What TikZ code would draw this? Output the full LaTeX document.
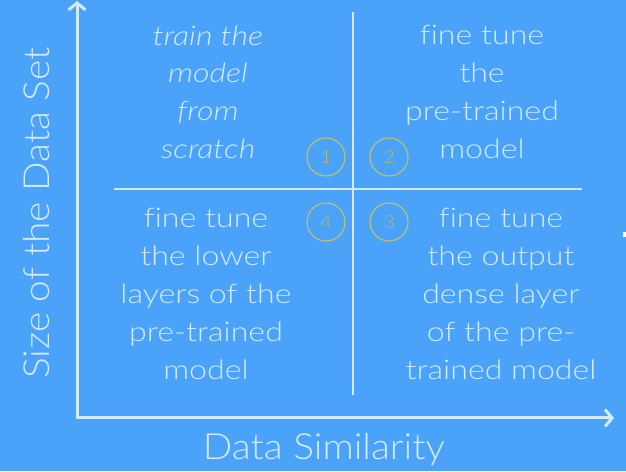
\documentclass[tikz,border=0pt]{standalone}
\usepackage{fontspec}
\setmainfont{Lato}[UprightFont={* Light},ItalicFont={* Light Italic},BoldFont={* Regular},Ligatures=NoCommon]
\newfontfamily\quadfont{Lato}[UprightFont={* Light},ItalicFont={* Light Italic},BoldFont={* Regular},FakeStretch=1.19,Ligatures=NoCommon]
\newfontfamily\labfont{Lato}[UprightFont={* Light},ItalicFont={* Light Italic},BoldFont={* Regular},FakeStretch=1.08,Ligatures=NoCommon]
\newfontfamily\numfont{Lato}[UprightFont={* Light},ItalicFont={* Light Italic},BoldFont={* Regular},FakeStretch=1.1]
\usetikzlibrary{arrows.meta}
\definecolor{bg}{HTML}{4AA3F8}
\definecolor{fg}{HTML}{D4EAFF}
\definecolor{ring}{HTML}{C6C06A}
\definecolor{ringtxt}{HTML}{BBB866}
\tikzset{
  axis/.style={draw=fg,line width=3pt,line join=miter,
    {Straight Barb[length=7pt,width=17pt,line width=3pt]}-{Straight Barb[length=7pt,width=17pt,line width=3pt]}},
  divider/.style={draw=fg,line width=1.2pt},
  quad/.style={text=fg,align=center,inner sep=0pt,font=\quadfont\fontsize{27}{37.8}\selectfont},
  axlabel/.style={text=fg,inner sep=0pt,font=\labfont\fontsize{36}{40}\selectfont},
  ringnode/.style={circle,draw=ring,line width=1.1pt,minimum size=38pt,inner sep=0pt,
    text=ringtxt,font=\numfont\fontsize{18}{20}\selectfont}
}
\begin{document}
\begin{tikzpicture}[x=1pt,y=1pt]
\fill[bg] (0,0) rectangle (626,471);
\useasboundingbox (0,0) rectangle (626,471);
% axes
\coordinate (ytip) at (77,470);
\coordinate (corner) at (77,53);
\coordinate (xtip) at (614,53);
\draw[axis] (ytip) -- (corner) -- (xtip);
% dividers
\coordinate (vtop) at (353,459);
\coordinate (vbot) at (353,76);
\coordinate (hl) at (114,282);
\coordinate (hr) at (582,282);
\draw[divider] (vtop) -- (vbot);
\draw[divider] (hl) -- (hr);
% quadrant texts
\node[quad,font=\quadfont\fontsize{27}{37.8}\selectfont\itshape] (tl) at (208,379) {train the\\model\\from\\scratch};
\node[quad] (tr) at (482,379) {fine tune\\the\\pre-trained\\model};
\node[quad] (bl) at (206,177) {fine tune\\the lower\\layers of the\\pre-trained\\model};
\node[quad] (br) at (501,177) {fine tune\\the output\\dense layer\\of the pre-\\trained model};
% circles
\node[ringnode] (c1) at (326,314) {1};
\node[ringnode] (c2) at (389,314) {2};
\node[ringnode] (c4) at (326,249) {4};
\node[ringnode] (c3) at (389,249) {3};
% axis labels
\node[axlabel,anchor=base] (xl) at (324,12) {Data Similarity};
\node[axlabel,anchor=base,rotate=90] (yl) at (50,258) {Size of the Data Set};
% edge mark
\fill[white] (623,234) rectangle (626,239);
\end{tikzpicture}
\end{document}
